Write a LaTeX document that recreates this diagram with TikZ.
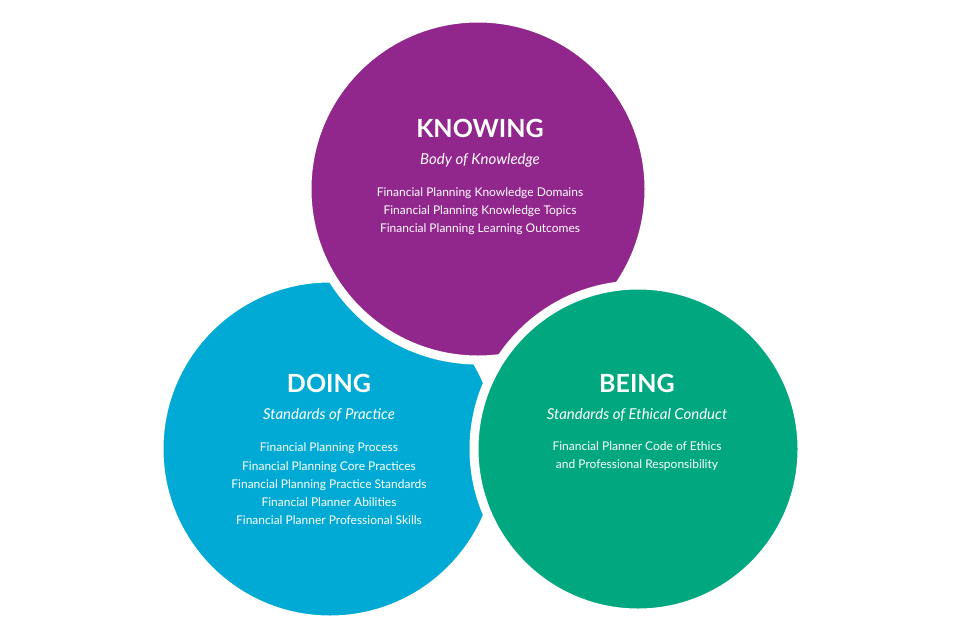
\documentclass[tikz,border=0pt]{standalone}
\usepackage{fontspec}
\setmainfont{Lato}
\definecolor{cpur}{HTML}{91278C}
\definecolor{cblu}{HTML}{00AAD4}
\definecolor{cgrn}{HTML}{00A77F}
\begin{document}
\begin{tikzpicture}[x=1pt,y=-1pt,
  circ/.style={draw=white,line width=9pt},
  ttl/.style={text=white,font=\bfseries\fontsize{25}{28}\selectfont},
  sub/.style={text=white,font=\itshape\fontsize{15}{18}\selectfont},
  body/.style={text=white,align=center,font=\fontsize{12}{18.2}\selectfont}]
\useasboundingbox (0,0) rectangle (960,640);
\fill[circ,fill=cblu] (330,449) circle (171);
\fill[circ,fill=cpur] (478,189) circle (171);
\fill[circ,fill=cgrn] (638,449) circle (164);
\node[ttl] (kt) at (480,128) {KNOWING};
\node[sub] (ks) at (480,160) {Body of Knowledge};
\node[body] (kb) at (480,211) {Financial Planning Knowledge Domains\\Financial Planning Knowledge Topics\\Financial Planning Learning Outcomes};
\node[ttl] (dt) at (329,383) {DOING};
\node[sub] (ds) at (329,415) {Standards of Practice};
\node[body] (db) at (329,484) {Financial Planning Process\\Financial Planning Core Practices\\Financial Planning Practice Standards\\Financial Planner Abilities\\Financial Planner Professional Skills};
\node[ttl] (bt) at (637,383) {BEING};
\node[sub] (bs) at (637,415) {Standards of Ethical Conduct};
\node[body] (bb) at (637,456) {Financial Planner Code of Ethics\\and Professional Responsibility};
\end{tikzpicture}
\end{document}
